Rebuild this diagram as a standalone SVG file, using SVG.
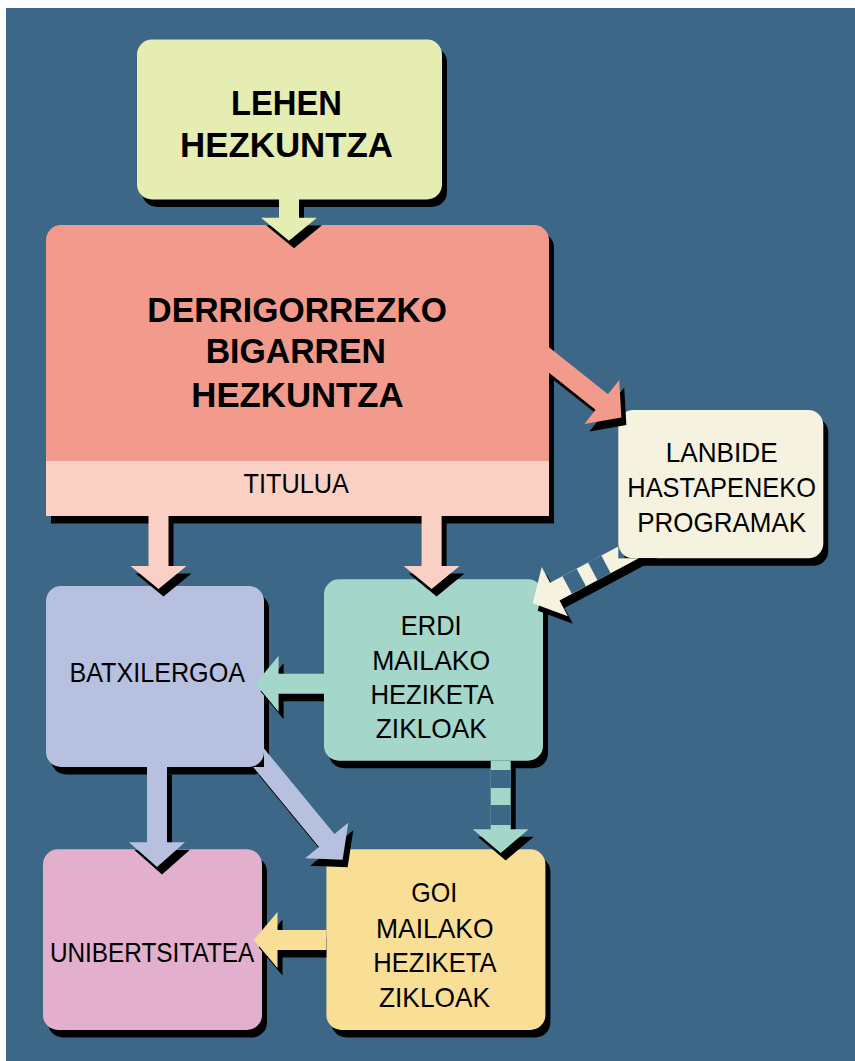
<svg xmlns="http://www.w3.org/2000/svg" width="855" height="1061" viewBox="0 0 855 1061">
<style>
.sh{fill:#000}
.t{font-family:"Liberation Sans",Arial,sans-serif;fill:#000}
.b{font-size:35px;font-weight:bold}
.r{font-size:28px}
.gap{fill:#3C6786}
</style>
<rect width="855" height="1061" fill="#fff"/>
<rect x="6" y="8" width="849" height="1053" fill="#3C6786"/>

<g id="lehen">
<rect class="sh" x="142" y="47" width="305" height="160" rx="15"/>
<rect x="137" y="39.5" width="305" height="160" rx="15" fill="#E5EDB3"/>
<text class="t b" x="231" y="114.5" textLength="111" lengthAdjust="spacingAndGlyphs">LEHEN</text>
<text class="t b" x="180" y="157" textLength="213" lengthAdjust="spacingAndGlyphs">HEZKUNTZA</text>
</g>

<g id="derrigorrezko">
<path class="sh" d="M51,523.5 V247.5 A15,15 0 0 1 66,232.5 H539 A15,15 0 0 1 554,247.5 V523.5 Z"/>
<path d="M46,516 V240 A15,15 0 0 1 61,225 H534 A15,15 0 0 1 549,240 V516 Z" fill="#F29A8C"/>
<rect x="46" y="461" width="503" height="55" fill="#FBD0C4"/>
<text class="t b" x="147.3" y="321.7" textLength="299.7" lengthAdjust="spacingAndGlyphs">DERRIGORREZKO</text>
<text class="t b" x="205.7" y="363.3" textLength="180.3" lengthAdjust="spacingAndGlyphs">BIGARREN</text>
<text class="t b" x="191.3" y="407.3" textLength="212.4" lengthAdjust="spacingAndGlyphs">HEZKUNTZA</text>
<text class="t r" x="243.6" y="493.3" textLength="105.4" lengthAdjust="spacingAndGlyphs">TITULUA</text>
</g>

<g id="lanbide">
<rect class="sh" x="623.3" y="417.5" width="205" height="148.3" rx="15"/>
<rect x="618.3" y="410" width="205" height="148.3" rx="15" fill="#F5F2E0"/>
<text class="t r" x="665.7" y="461.7" textLength="112" lengthAdjust="spacingAndGlyphs">LANBIDE</text>
<text class="t r" x="627.3" y="496.7" textLength="188.7" lengthAdjust="spacingAndGlyphs">HASTAPENEKO</text>
<text class="t r" x="637.3" y="531.7" textLength="168.7" lengthAdjust="spacingAndGlyphs">PROGRAMAK</text>
</g>

<g id="batxilergoa">
<rect class="sh" x="51" y="593.5" width="218" height="181" rx="15"/>
<rect x="46" y="586" width="218" height="181" rx="15" fill="#B8C0E0"/>
<text class="t r" x="69.4" y="682.3" textLength="175.6" lengthAdjust="spacingAndGlyphs">BATXILERGOA</text>
</g>

<g id="erdi">
<rect class="sh" x="329" y="586.8" width="219" height="181.4" rx="15"/>
<rect x="324" y="579.3" width="219" height="181.4" rx="15" fill="#A4D6CA"/>
<text class="t r" x="400.8" y="635" textLength="60.9" lengthAdjust="spacingAndGlyphs">ERDI</text>
<text class="t r" x="372.2" y="670" textLength="118" lengthAdjust="spacingAndGlyphs">MAILAKO</text>
<text class="t r" x="370.4" y="704" textLength="123.4" lengthAdjust="spacingAndGlyphs">HEZIKETA</text>
<text class="t r" x="375.8" y="738.3" textLength="111" lengthAdjust="spacingAndGlyphs">ZIKLOAK</text>
</g>

<g id="unibertsitatea">
<rect class="sh" x="48" y="856.8" width="219" height="180.7" rx="15"/>
<rect x="43" y="849.3" width="219" height="180.7" rx="15" fill="#E2B0CC"/>
<text class="t r" x="49.9" y="961.7" textLength="204.4" lengthAdjust="spacingAndGlyphs">UNIBERTSITATEA</text>
</g>

<g id="goi">
<rect class="sh" x="331.4" y="856.8" width="219" height="180.7" rx="15"/>
<rect x="326.4" y="849.3" width="219" height="180.7" rx="15" fill="#F9DE95"/>
<text class="t r" x="411.2" y="902.3" textLength="46" lengthAdjust="spacingAndGlyphs">GOI</text>
<text class="t r" x="376" y="937.7" textLength="117.5" lengthAdjust="spacingAndGlyphs">MAILAKO</text>
<text class="t r" x="373.3" y="971.7" textLength="123.3" lengthAdjust="spacingAndGlyphs">HEZIKETA</text>
<text class="t r" x="379" y="1006.7" textLength="111" lengthAdjust="spacingAndGlyphs">ZIKLOAK</text>
</g>

<g id="connectors">
<g id="arrow-shadows" class="sh">
<polygon transform="translate(5,7.5)" points="279,199 299,199 299,217.7 317,217.7 289,240.7 261,217.7 279,217.7"/>
<polygon transform="translate(5,7.5)" points="148.5,515.7 168.5,515.7 168.5,566 186.5,566 158.5,589 130.5,566 148.5,566"/>
<polygon transform="translate(5,7.5)" points="421.6,515.7 441.6,515.7 441.6,566 459.6,566 431.6,589 403.6,566 421.6,566"/>
<polygon transform="translate(5,7.5)" points="549,347.3 608,394.2 619.2,380.1 621.4,417.6 584.4,423.9 595.6,409.8 549,372.8"/>
<polygon points="618.3,556.7 555.1,590.3 546.7,574.4 537.7,610.8 572.9,623.8 564.5,607.9 657.9,558.3 618.3,558.3"/>
<polygon points="324,681.2 283.6,681.2 283.6,663.2 260.4,691.2 283.6,719.2 283.6,701.2 324,701.2"/>
<polygon transform="translate(5,7.5)" points="147,767 167,767 167,842.3 185,842.3 157,867 129,842.3 147,842.3"/>
<polygon transform="translate(5,7.5)" points="264,748.5 334.4,834.1 348.3,822.7 342.6,859.8 305.1,858.3 319,846.9 253.2,767 264,767"/>
<polygon transform="translate(5,7.5)" points="490.7,760.7 510.7,760.7 510.7,829.3 528.7,829.3 500.7,853 472.7,829.3 490.7,829.3"/>
<polygon points="326.4,937.5 282.5,937.5 282.5,919.5 258.7,947.5 282.5,975.5 282.5,957.5 326.4,957.5"/>
</g>
<polygon id="lehen-to-derrigorrezko" fill="#E5EDB3" points="279,199 299,199 299,217.7 317,217.7 289,240.7 261,217.7 279,217.7"/>
<polygon id="titulua-to-batxilergoa" fill="#FBD0C4" points="148.5,515.7 168.5,515.7 168.5,566 186.5,566 158.5,589 130.5,566 148.5,566"/>
<polygon id="titulua-to-erdi" fill="#FBD0C4" points="421.6,515.7 441.6,515.7 441.6,566 459.6,566 431.6,589 403.6,566 421.6,566"/>
<polygon id="derrigorrezko-to-lanbide" fill="#F29A8C" points="549,347.3 608,394.2 619.2,380.1 621.4,417.6 584.4,423.9 595.6,409.8 549,372.8"/>
<g id="lanbide-to-erdi">
<polygon fill="#F5F2E0" points="618.3,546.6 550.1,582.8 541.7,566.9 532.7,603.3 567.9,616.3 559.5,600.4 638.8,558.3 618.3,558.3"/>
<polygon class="gap" points="562.47,576.2 576.6,568.7 585.98,586.36 571.85,593.86"/>
<polygon class="gap" points="588.08,562.6 601.32,555.57 610.7,573.23 597.46,580.26"/>
</g>
<polygon id="erdi-to-batxilergoa" fill="#A4D6CA" points="324,673.7 278.6,673.7 278.6,655.7 255.4,683.7 278.6,711.7 278.6,693.7 324,693.7"/>
<polygon id="batxilergoa-to-unibertsitatea" fill="#B8C0E0" points="147,767 167,767 167,842.3 185,842.3 157,867 129,842.3 147,842.3"/>
<polygon id="batxilergoa-to-goi" fill="#B8C0E0" points="264,748.5 334.4,834.1 348.3,822.7 342.6,859.8 305.1,858.3 319,846.9 253.2,767 264,767"/>
<g id="erdi-to-goi">
<polygon fill="#A4D6CA" points="490.7,760.7 510.7,760.7 510.7,829.3 528.7,829.3 500.7,853 472.7,829.3 490.7,829.3"/>
<rect class="gap" x="490.7" y="770" width="20" height="18"/>
<rect class="gap" x="490.7" y="805" width="20" height="20"/>
</g>
<polygon id="goi-to-unibertsitatea" fill="#F9DE95" points="326.4,930 277.5,930 277.5,912 253.7,940 277.5,968 277.5,950 326.4,950"/>
</g>
</svg>
